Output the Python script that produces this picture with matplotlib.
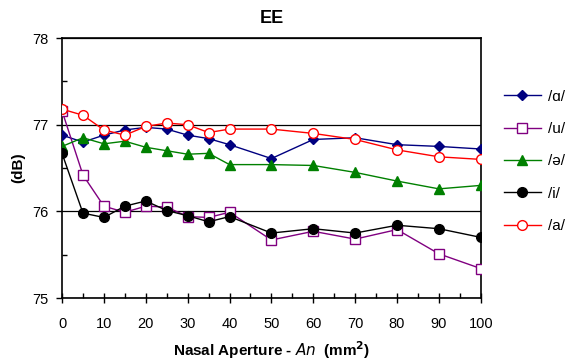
import matplotlib
matplotlib.use("Agg")
import matplotlib.pyplot as plt
from matplotlib.ticker import MultipleLocator

plt.rcParams["font.family"] = ["Liberation Sans", "DejaVu Sans"]

# ── Data ──────────────────────────────────────────────────────────────────────
aperture = [0, 5, 10, 15, 20, 25, 30, 35, 40, 50, 60, 70, 80, 90, 100]

vowel_alpha = [76.88, 76.80, 76.88, 76.94, 76.97, 76.95, 76.88, 76.84, 76.77,
               76.61, 76.83, 76.85, 76.77, 76.75, 76.72]
vowel_u     = [77.16, 76.42, 76.06, 75.99, 76.06, 76.05, 75.94, 75.93, 75.99,
               75.67, 75.77, 75.68, 75.79, 75.51, 75.34]
vowel_schwa = [76.75, 76.85, 76.78, 76.81, 76.74, 76.70, 76.66, 76.67, 76.54,
               76.54, 76.53, 76.45, 76.35, 76.26, 76.30]
vowel_i     = [76.67, 75.98, 75.93, 76.06, 76.12, 76.01, 75.95, 75.88, 75.94,
               75.75, 75.80, 75.75, 75.84, 75.80, 75.70]
vowel_a     = [77.18, 77.11, 76.94, 76.88, 76.98, 77.02, 77.00, 76.91, 76.95,
               76.95, 76.90, 76.83, 76.71, 76.63, 76.60]

labels = ["/\u0251/", "/u/", "/\u0259/", "/i/", "/a/"]

# ── Draw ──────────────────────────────────────────────────────────────────────
fig = plt.figure(figsize=(5.69, 3.63), dpi=100)
ax = fig.add_axes([0.109, 0.179, 0.736, 0.716])

ax.plot(aperture, vowel_alpha, color="#000080", marker="D", markersize=5,
        linewidth=1, label=labels[0], zorder=3)
ax.plot(aperture, vowel_u, color="#800080", marker="s", markersize=7,
        markerfacecolor="white", markeredgewidth=1, linewidth=1,
        label=labels[1], zorder=3)
ax.plot(aperture, vowel_schwa, color="#008000", marker="^", markersize=7,
        linewidth=1, label=labels[2], zorder=3)
ax.plot(aperture, vowel_i, color="black", marker="o", markersize=7,
        linewidth=1, label=labels[3], zorder=3)
ax.plot(aperture, vowel_a, color="#ff0000", marker="o", markersize=7,
        markerfacecolor="white", markeredgewidth=1, linewidth=1,
        label=labels[4], zorder=4)

ax.set_xlim(0, 100)
ax.set_ylim(75, 78)
ax.xaxis.set_major_locator(MultipleLocator(10))
ax.xaxis.set_minor_locator(MultipleLocator(5))
ax.yaxis.set_major_locator(MultipleLocator(1))
ax.yaxis.set_minor_locator(MultipleLocator(0.5))

ax.tick_params(axis="x", which="major", direction="inout", length=7,
               width=1, labelsize=10.5, pad=10)
ax.tick_params(axis="x", which="minor", direction="in", length=3.5, width=1)
ax.tick_params(axis="y", which="major", direction="out", length=4.5,
               width=1, labelsize=10.5, pad=5)
ax.tick_params(axis="y", which="minor", direction="in", length=3.5, width=1)

ax.grid(axis="y", which="major", color="black", linewidth=0.9, zorder=1)
for s in ax.spines.values():
    s.set_linewidth(1.2)

ax.set_title("EE", fontsize=13, fontweight="bold", pad=11)
ax.set_ylabel("(dB)", fontsize=11, fontweight="bold", labelpad=5)
ax.set_xlabel(r"Nasal Aperture - $\bf{\it{An}}$  (mm$^\mathbf{2}$)",
              fontsize=11, fontweight="bold", labelpad=6)

leg = fig.legend(loc="upper left", bbox_to_anchor=(0.875, 0.77), frameon=False,
                 fontsize=11, handlelength=2.4, handletextpad=0.5,
                 labelspacing=1.2, borderaxespad=0)

fig.savefig("out.png", dpi=100)
